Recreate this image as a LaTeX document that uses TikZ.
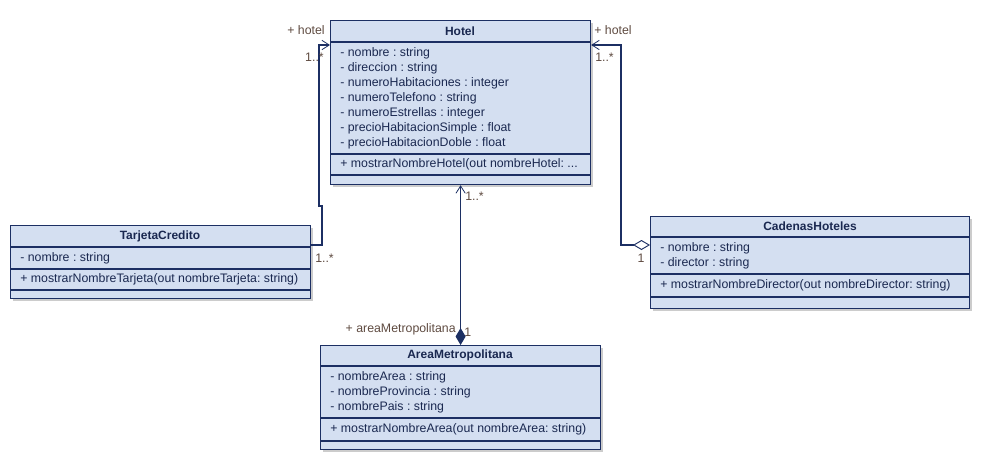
\documentclass[tikz,border=0pt]{standalone}
\usepackage{fontspec}
\setmainfont{Liberation Sans}
\usetikzlibrary{arrows.meta,calc,shadows}

\definecolor{umlfill}{HTML}{D4DFF1}
\definecolor{umlline}{HTML}{1C2F63}
\definecolor{umltext}{HTML}{1A2850}
\definecolor{umllabel}{HTML}{5E4A40}
\newcommand{\px}{0.75pt}
\frenchspacing

\tikzset{
	classbox/.style={draw=umlline, fill=umlfill, line width=0.9pt, anchor=north west, inner sep=0pt,
		drop shadow={shadow xshift=1.5pt, shadow yshift=-1.5pt, fill=black!40, opacity=0.5}},
	classname/.style={font=\fontsize{9}{11}\selectfont\bfseries, text=umltext, inner sep=0pt},
	member/.style={font=\fontsize{9.25}{11}\selectfont, text=umltext, anchor=west, inner sep=0pt},
	rolelabel/.style={font=\fontsize{9.25}{11}\selectfont, text=umllabel, inner sep=0pt},
	compline/.style={draw=umlline, line width=0.9pt},
	assoc/.style={draw=umlline, line width=0.8pt, -{Straight Barb[length=5.5pt,width=7pt,line width=0.6pt]}},
	aggreg/.style={draw=umlline, line width=0.8pt, {Diamond[length=12.75pt,width=7.5pt,fill=white,line width=0.7pt]}-{Straight Barb[length=5.5pt,width=7pt,line width=0.6pt]}},
	compos/.style={draw=umlline, line width=0.8pt, {Diamond[length=12.75pt,width=7.5pt,fill=umlline]}-{Straight Barb[length=5.5pt,width=7pt,line width=0.6pt]}},
}

\begin{document}
\begin{tikzpicture}[x=0.75pt,y=-0.75pt]
	\useasboundingbox (0,0) rectangle (981,461);

	% Hotel
	\node[classbox, minimum width=260*\px, minimum height=164*\px] (hotel) at (330,20) {};
	\draw[compline] (330,42) -- (590,42);
	\draw[compline] (330,154) -- (590,154);
	\draw[compline] (330,175) -- (590,175);
	\node[classname] (hotelname) at (460,31) {Hotel};
	\foreach \t [count=\i from 0] in {- nombre : string, - direccion : string, - numeroHabitaciones : integer, - numeroTelefono : string, - numeroEstrellas : integer, - precioHabitacionSimple : float, - precioHabitacionDoble : float}
		\node[member] (hotelattr\i) at (340,53+15*\i) {\t};
	\node[member] (hotelop) at (340,164.5) {+ mostrarNombreHotel(out nombreHotel: ...};

	% TarjetaCredito
	\node[classbox, minimum width=300*\px, minimum height=73*\px] (tarjeta) at (10,225) {};
	\draw[compline] (10,247) -- (310,247);
	\draw[compline] (10,269) -- (310,269);
	\draw[compline] (10,290) -- (310,290);
	\node[classname] (tarjetaname) at (160,236) {TarjetaCredito};
	\node[member] (tarjetaattr) at (20,258) {- nombre : string};
	\node[member] (tarjetaop) at (20,279.5) {+ mostrarNombreTarjeta(out nombreTarjeta: string)};

	% CadenasHoteles
	\node[classbox, minimum width=319*\px, minimum height=92*\px] (cadenas) at (650,216) {};
	\draw[compline] (650,237) -- (969,237);
	\draw[compline] (650,274) -- (969,274);
	\draw[compline] (650,297) -- (969,297);
	\node[classname] (cadenasname) at (810,226.5) {CadenasHoteles};
	\node[member] (cadenasattr0) at (660,248.5) {- nombre : string};
	\node[member] (cadenasattr1) at (660,263.5) {- director : string};
	\node[member] (cadenasop) at (660,285.5) {+ mostrarNombreDirector(out nombreDirector: string)};

	% AreaMetropolitana
	\node[classbox, minimum width=280*\px, minimum height=104*\px] (area) at (320,345) {};
	\draw[compline] (320,366) -- (600,366);
	\draw[compline] (320,418) -- (600,418);
	\draw[compline] (320,441) -- (600,441);
	\node[classname] (areaname) at (460,355.5) {AreaMetropolitana};
	\foreach \t [count=\i from 0] in {- nombreArea : string, - nombreProvincia : string, - nombrePais : string}
		\node[member] (areaattr\i) at (330,377+15*\i) {\t};
	\node[member] (areaop) at (330,429.5) {+ mostrarNombreArea(out nombreArea: string)};

	% associations
	\draw[assoc] ($(tarjeta.north east)+(0,20)$) -- (322,245) -- (322,206) -- (319,206) -- (319,45) -- ($(hotel.north west)+(0,25)$);
	\draw[aggreg] ($(cadenas.north west)+(0,29)$) -- (621,245) -- (621,45) -- ($(hotel.north east)+(0,25)$);
	\draw[compos] (area.north) -- (hotel.south);

	% roles and multiplicities
	\node[rolelabel, anchor=east] (hotelroleL) at (325,30) {+ hotel};
	\node[rolelabel, anchor=east] (hotelmultL) at (324,57) {1..*};
	\node[rolelabel, anchor=west] (tarjetamult) at (315,258) {1..*};
	\node[rolelabel, anchor=west] (hotelroleR) at (594,30) {+ hotel};
	\node[rolelabel, anchor=west] (hotelmultR) at (595,57) {1..*};
	\node[rolelabel] (cadenasmult) at (641,258) {1};
	\node[rolelabel, anchor=west] (hotelmultC) at (465,196) {1..*};
	\node[rolelabel, anchor=west] (areamult) at (464,332) {1};
	\node[rolelabel, anchor=east] (arearole) at (456,329) {+ areaMetropolitana};
\end{tikzpicture}
\end{document}
